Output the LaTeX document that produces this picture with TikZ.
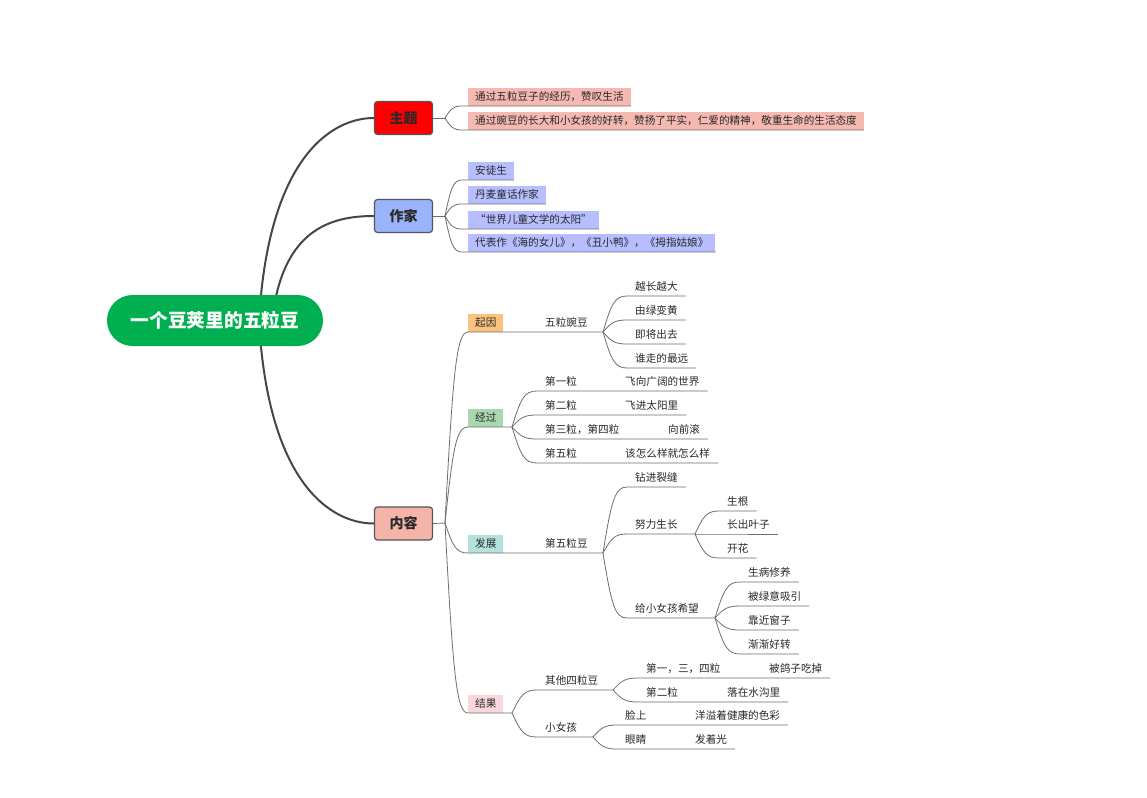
\documentclass[tikz,border=0pt]{standalone}
\usepackage{fontspec}
\newfontfamily\cjk{Noto Sans CJK SC}
\usetikzlibrary{calc}
\definecolor{rootc}{RGB}{0,176,80}
\definecolor{zhutic}{RGB}{255,0,0}
\definecolor{zuojiac}{RGB}{153,180,250}
\definecolor{neirongc}{RGB}{245,180,170}
\definecolor{itemred}{RGB}{245,185,178}
\definecolor{itemblue}{RGB}{183,190,255}
\definecolor{qiyinc}{RGB}{250,195,125}
\definecolor{jingguoc}{RGB}{170,215,175}
\definecolor{fazhanc}{RGB}{180,225,220}
\definecolor{jieguoc}{RGB}{250,215,220}
\definecolor{txt}{RGB}{40,40,40}
\definecolor{linec}{RGB}{110,110,110}
\definecolor{mainline}{RGB}{70,70,70}
\definecolor{boxedge}{RGB}{85,85,85}
\begin{document}
\begin{tikzpicture}[x=1pt,y=-1pt,
  txtbase/.style={font=\cjk\fontsize{10.6}{12}\selectfont, text=txt, text height=9pt, text depth=1pt},
  lbl/.style={txtbase, anchor=south west, inner xsep=8pt, inner ysep=4pt},
  tag/.style={txtbase, anchor=south west, inner xsep=7pt, inner ysep=4pt, fill=#1},
  mainbox/.style={font=\cjk\bfseries\fontsize{14}{16}\selectfont, text=txt, draw=boxedge, line width=1.2pt, rounded corners=3pt, minimum width=58pt, minimum height=33pt, fill=#1, inner sep=0pt},
  conn/.style={draw=linec, line width=0.8pt},
  mainconn/.style={draw=mainline, line width=2pt},
  fan/.style={to path={let \p1=(\tikztostart), \p2=(\tikztotarget) in
     .. controls ({\x1+0.35*(\x2-\x1)},{\y1+0.8*(\y2-\y1)}) and ({\x2-0.5*(\x2-\x1)},\y2) .. (\tikztotarget)}}
]
\useasboundingbox (0,0) rectangle (1147,797);
\fill[white] (0,0) rectangle (1147,797);

% main boxes
\node[mainbox=zhutic] (zhuti) at (403.5,118) {主题};
\node[mainbox=zuojiac] (zuojia) at (403.5,216) {作家};
\node[mainbox=neirongc] (neirong) at (403.5,523.5) {内容};

% main curves (start inside the root)
\coordinate (r1) at (259,321);
\coordinate (r2) at (272,321);
\draw[mainconn] (r1) .. controls (268,160) and +(-44,0) .. (zhuti.west);
\draw[mainconn] (r2) .. controls (282,230) and +(-44,0) .. (zuojia.west);
\draw[mainconn] (r1) .. controls (268,482) and +(-44,0) .. (neirong.west);

% root
\node[font=\cjk\bfseries\fontsize{18.7}{20}\selectfont, text=white, fill=rootc, rounded corners=25.5pt, minimum width=216pt, minimum height=51pt, inner sep=0pt] (root) at (215,320.5) {一个豆荚里的五粒豆};

% 主题 items
\node[tag=itemred] (t1) at (468,106) {通过五粒豆子的经历，赞叹生活};
\node[tag=itemred] (t2) at (468,130) {通过豌豆的长大和小女孩的好转，赞扬了平实，仁爱的精神，敬重生命的生活态度};
\coordinate (bz) at (445,118);
\draw[conn] (zhuti.east) -- (bz);
\draw[conn] (bz) to[fan] ([xshift=-6pt]t1.south west) -- (t1.south east);
\draw[conn] (bz) to[fan] ([xshift=-6pt]t2.south west) -- (t2.south east);

% 作家 items
\node[tag=itemblue] (w1) at (468,180) {安徒生};
\node[tag=itemblue] (w2) at (468,204) {丹麦童话作家};
\node[tag=itemblue] (w3) at (468,229) {“世界儿童文学的太阳”};
\node[tag=itemblue] (w4) at (468,252) {代表作《海的女儿》，《丑小鸭》，《拇指姑娘》};
\coordinate (bw) at (445,216);
\draw[conn] (zuojia.east) -- (bw);
\foreach \k in {w1,w2,w3,w4}
  \draw[conn] (bw) to[fan] ([xshift=-6pt]\k.south west) -- (\k.south east);

% 内容 branches
\coordinate (bn) at (445,523);
\draw[conn] (neirong.east) -- (bn);
\node[tag=qiyinc] (qiyin) at (468,332) {起因};
\node[tag=jingguoc] (jingguo) at (468,427) {经过};
\node[tag=fazhanc] (fazhan) at (468,553) {发展};
\node[tag=jieguoc] (jieguo) at (468,713) {结果};

% 起因
\node[lbl] (wlwd) at (537,332) {五粒豌豆};
\coordinate (bq) at (603,332);
\draw[conn] (bn) to[fan] (qiyin.south west) -- (qiyin.south east) -- (wlwd.south west) -- (wlwd.south east) -- (bq);
\node[lbl] (q1) at (627,296) {越长越大};
\node[lbl] (q2) at (627,320) {由绿变黄};
\node[lbl] (q3) at (627,344) {即将出去};
\node[lbl] (q4) at (627,368) {谁走的最远};
\foreach \k in {q1,q2,q3,q4}
  \draw[conn] (bq) to[fan] (\k.south west) -- (\k.south east);

% 经过
\coordinate (bj) at (512,427);
\draw[conn] (bn) to[fan] (jingguo.south west) -- (jingguo.south east) -- (bj);
\node[lbl] (d1) at (537,391) {第一粒};
\node[lbl] (e1) at (617,391) {飞向广阔的世界};
\node[lbl] (d2) at (537,415) {第二粒};
\node[lbl] (e2) at (617,415) {飞进太阳里};
\node[lbl] (d3) at (537,439) {第三粒，第四粒};
\node[lbl] (e3) at (660,439) {向前滚};
\node[lbl] (d4) at (537,463) {第五粒};
\node[lbl] (e4) at (617,463) {该怎么样就怎么样};
\foreach \a/\b in {d1/e1,d2/e2,d3/e3,d4/e4}
  \draw[conn] (bj) to[fan] (\a.south west) -- (\a.south east) -- (\b.south west) -- (\b.south east);

% 发展
\node[lbl] (dwl) at (537,553) {第五粒豆};
\coordinate (bf) at (603,553);
\draw[conn] (bn) to[fan] (fazhan.south west) -- (fazhan.south east) -- (dwl.south west) -- (dwl.south east) -- (bf);
\node[lbl] (f1) at (627,487) {钻进裂缝};
\node[lbl] (f2) at (627,534) {努力生长};
\node[lbl] (f3) at (627,618) {给小女孩希望};
\draw[conn] (bf) to[fan] (f1.south west) -- (f1.south east);
\coordinate (bnl) at (695,534);
\draw[conn] (bf) to[fan] (f2.south west) -- (f2.south east) -- (bnl);
\coordinate (bg) at (715,618);
\draw[conn] (bf) to[fan] (f3.south west) -- (f3.south east) -- (bg);
\node[lbl] (g1) at (719,511) {生根};
\node[lbl] (g2) at (719,534) {长出叶子};
\node[lbl] (g3) at (719,558) {开花};
\draw[conn] (bnl) to[fan] (g1.south west) -- (g1.south east);
\draw[conn] (bnl) -- (g2.south west) -- (g2.south east);
\draw[conn] (bnl) to[fan] (g3.south west) -- (g3.south east);
\node[lbl] (h1) at (740,582) {生病修养};
\node[lbl] (h2) at (740,606) {被绿意吸引};
\node[lbl] (h3) at (740,630) {靠近窗子};
\node[lbl] (h4) at (740,654) {渐渐好转};
\foreach \k in {h1,h2,h3,h4}
  \draw[conn] (bg) to[fan] (\k.south west) -- (\k.south east);

% 结果
\coordinate (br) at (512,713);
\draw[conn] (bn) to[fan] (jieguo.south west) -- (jieguo.south east) -- (br);
\node[lbl] (oo) at (537,690) {其他四粒豆};
\node[lbl] (xx) at (537,737) {小女孩};
\coordinate (bo) at (613,690);
\coordinate (bx) at (593,737);
\draw[conn] (br) to[fan] (oo.south west) -- (oo.south east) -- (bo);
\draw[conn] (br) to[fan] (xx.south west) -- (xx.south east) -- (bx);
\node[lbl] (o1) at (638,678) {第一，三，四粒};
\node[lbl] (p1) at (761,678) {被鸽子吃掉};
\node[lbl] (o2) at (638,702) {第二粒};
\node[lbl] (p2) at (719,702) {落在水沟里};
\foreach \a/\b in {o1/p1,o2/p2}
  \draw[conn] (bo) to[fan] (\a.south west) -- (\a.south east) -- (\b.south west) -- (\b.south east);
\node[lbl] (x1) at (617,725) {脸上};
\node[lbl] (y1) at (687,725) {洋溢着健康的色彩};
\node[lbl] (x2) at (617,749) {眼睛};
\node[lbl] (y2) at (687,749) {发着光};
\foreach \a/\b in {x1/y1,x2/y2}
  \draw[conn] (bx) to[fan] (\a.south west) -- (\a.south east) -- (\b.south west) -- (\b.south east);
\end{tikzpicture}
\end{document}
